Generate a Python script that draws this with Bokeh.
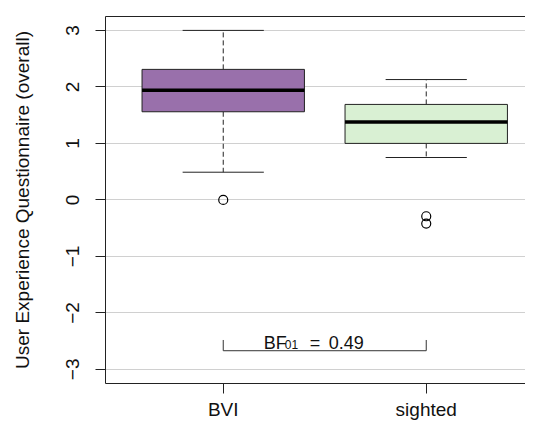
from bokeh.plotting import figure
from bokeh.models import Range1d, FixedTicker, Label, ColumnDataSource, LinearAxis
from bokeh.embed import file_html
from bokeh.resources import INLINE

# ---- data ----
categories = ["BVI", "sighted"]
q1 = [1.56, 1.00]
median = [1.94, 1.38]
q3 = [2.31, 1.69]
whisker_low = [0.49, 0.75]
whisker_high = [3.00, 2.13]
box_colors = ["#9970ab", "#d9f0d3"]
outlier_group = ["BVI", "sighted", "sighted"]
outlier_value = [0.0, -0.29, -0.42]
y_ticks = [-3, -2, -1, 0, 1, 2, 3]
y_tick_labels = ["\u22123", "\u22122", "\u22121", "0", "1", "2", "3"]
bf_label = ["BF", "01", "=", "0.49"]
bf_y = -2.67
bf_tip = -2.48
bf_text_y = -2.53

pos = [i + 1 for i in range(len(categories))]
out_x = [categories.index(g) + 1 for g in outlier_group]

FONT = "Liberation Sans"
FRAME = "#222222"

p = figure(width=525, height=422, x_range=Range1d(0.42, 2.489), y_range=Range1d(-3.25, 3.246),
           output_backend="svg", toolbar_location=None,
           min_border_left=105, min_border_right=0, min_border_top=16, min_border_bottom=36)
p.background_fill_color = "white"
p.border_fill_color = "white"
p.outline_line_color = None

# top frame line (no ticks, hence no labels)
top = LinearAxis(ticker=FixedTicker(ticks=[]), axis_line_color=FRAME, axis_line_width=1,
                 major_tick_out=0, major_tick_in=0, minor_tick_out=0, minor_tick_in=0,
                 major_label_standoff=0)
p.add_layout(top, "above")

# axes
xax = p.below[0]
yax = p.left[0]
xax.ticker = FixedTicker(ticks=pos)
xax.major_label_overrides = {pv: c for pv, c in zip(pos, categories)}
yax.ticker = FixedTicker(ticks=y_ticks)
yax.major_label_overrides = {t: l for t, l in zip(y_ticks, y_tick_labels)}
yax.major_label_orientation = "vertical"
for ax in (xax, yax):
    ax.axis_line_color = FRAME
    ax.axis_line_width = 1
    ax.major_tick_out = 10
    ax.major_tick_in = 0
    ax.minor_tick_out = 0
    ax.minor_tick_in = 0
    ax.major_tick_line_color = FRAME
    ax.major_label_text_font = FONT
    ax.major_label_text_font_size = "19px"
    ax.major_label_text_color = "#111111"
xax.major_label_standoff = 5
yax.major_label_standoff = 16
yax.axis_label = "User Experience Questionnaire (overall)"
yax.axis_label_text_font = FONT
yax.axis_label_text_font_size = "19px"
yax.axis_label_text_font_style = "normal"
yax.axis_label_text_color = "#111111"
yax.axis_label_standoff = 31

p.xgrid.visible = False
p.ygrid.ticker = FixedTicker(ticks=y_ticks)
p.ygrid.grid_line_color = "#d0d0d0"
p.ygrid.grid_line_width = 1

# whiskers (dashed) and caps
for i, x in enumerate(pos):
    p.segment(x0=[x, x], y0=[q3[i], q1[i]], x1=[x, x], y1=[whisker_high[i], whisker_low[i]],
              line_color=FRAME, line_width=1, line_dash="5 3")
    p.segment(x0=[x - 0.2, x - 0.2], y0=[whisker_high[i], whisker_low[i]],
              x1=[x + 0.2, x + 0.2], y1=[whisker_high[i], whisker_low[i]],
              line_color=FRAME, line_width=1)

# boxes
src = ColumnDataSource(dict(left=[x - 0.4 for x in pos], right=[x + 0.4 for x in pos],
                            bottom=q1, top=q3, color=box_colors))
p.quad(left="left", right="right", bottom="bottom", top="top", fill_color="color",
       line_color=FRAME, line_width=1, source=src)
# medians
p.segment(x0=[x - 0.4 for x in pos], y0=median, x1=[x + 0.4 for x in pos], y1=median,
          line_color="black", line_width=3.5)

# outliers
p.scatter(x=out_x, y=outlier_value, marker="circle", size=9, fill_color=None,
          line_color="black", line_width=1.2)

# BF bracket
p.line(x=[pos[0], pos[0], pos[1], pos[1]], y=[bf_tip, bf_y, bf_y, bf_tip],
       line_color="#333333", line_width=1)
bx = 1.2
offsets = [0, 21, 46, 65]
sizes = ["18px", "12px", "18px", "18px"]
yoff = [0, -2, 0, 0]
for t, xo, s, yo in zip(bf_label, offsets, sizes, yoff):
    p.add_layout(Label(x=bx, y=bf_text_y, x_offset=xo, y_offset=yo, text=t, text_font=FONT,
                       text_font_size=s, text_color="#111111", text_baseline="alphabetic"))

open("out.html", "w").write(file_html(p, INLINE))
